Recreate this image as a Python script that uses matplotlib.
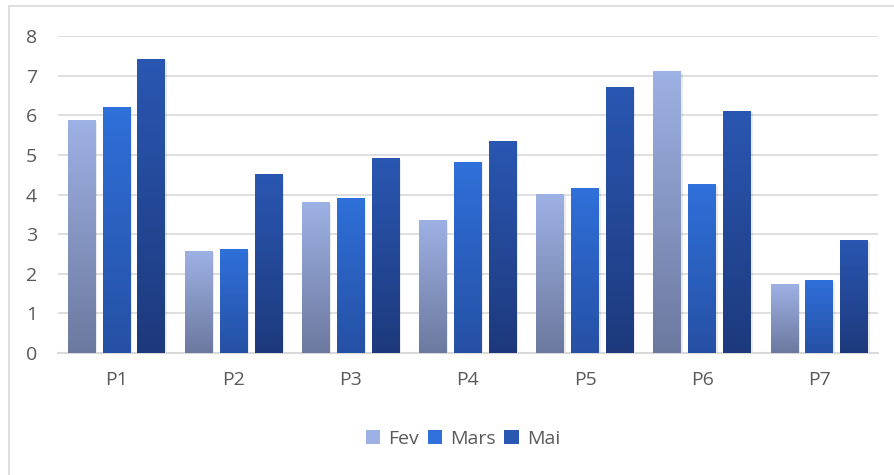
import matplotlib.pyplot as plt
import numpy as np
from matplotlib.colors import LinearSegmentedColormap
from matplotlib.patches import Rectangle

categories = ["P1", "P2", "P3", "P4", "P5", "P6", "P7"]
series_names = ["Fev", "Mars", "Mai"]
fev = [5.87, 2.55, 3.8, 3.35, 4.0, 7.1, 1.72]
mars = [6.2, 2.6, 3.9, 4.8, 4.15, 4.25, 1.82]
mai = [7.4, 4.5, 4.9, 5.35, 6.7, 6.1, 2.83]
yticks = [0, 1, 2, 3, 4, 5, 6, 7, 8]

# top colour, bottom colour of each series gradient
shades = [("#9eb1e4", "#6c799f"), ("#2f70da", "#2650a4"), ("#2a57b2", "#1d397c")]

plt.rcParams["font.family"] = ["Open Sans", "DejaVu Sans"]

fig = plt.figure(figsize=(8.95, 4.75), dpi=100, facecolor="w")
ax = fig.add_axes([58 / 895, 1 - 353 / 475, 820 / 895, 317 / 475])

# light frame around the chart area
fig.patches.append(Rectangle((9 / 895, -0.1), 1.2, 1 - 6 / 475 + 0.1, transform=fig.transFigure,
                             fill=False, edgecolor="#d9d9d9", linewidth=1.2))

x = np.arange(len(categories))
width = 0.239
step = 0.298
grad = np.linspace(1, 0, 256).reshape(-1, 1)

for i, vals in enumerate([fev, mars, mai]):
    top, bottom = shades[i]
    cmap = LinearSegmentedColormap.from_list(series_names[i], [bottom, top])
    xs = x + (i - 1) * step
    for xc, v in zip(xs, vals):
        # soft shadow behind the bar
        ax.add_patch(Rectangle((xc - width / 2 + 0.012, 0), width, v - 0.03,
                               facecolor="#000000", alpha=0.08, linewidth=0, zorder=2))
        ax.imshow(grad, extent=[xc - width / 2, xc + width / 2, 0, v], aspect="auto",
                  cmap=cmap, vmin=0, vmax=1, zorder=3)
    ax.bar([0], [0], color=top, label=series_names[i])

ax.set_xlim(-0.5, len(categories) - 0.5)
ax.set_ylim(0, 8)
ax.set_xticks(x)
ax.set_xticklabels(categories)
ax.set_yticks(yticks)
ax.tick_params(length=0, labelsize=14, labelcolor="#595959")
ax.tick_params(axis="x", pad=13)
ax.tick_params(axis="y", pad=15)
ax.yaxis.grid(True, color="#d9d9d9", linewidth=1.2, zorder=0)
ax.set_axisbelow(True)
for s in ["top", "right", "left"]:
    ax.spines[s].set_visible(False)
ax.spines["bottom"].set_color("#d9d9d9")
ax.spines["bottom"].set_linewidth(1.5)

fig.legend(loc="center", bbox_to_anchor=(463 / 895, 1 - 439 / 475), ncol=3, frameon=False,
           fontsize=14, labelcolor="#595959", handlelength=0.75, handleheight=0.75,
           handletextpad=0.4, columnspacing=0.45)

fig.savefig("out.png", dpi=100, facecolor="w")
